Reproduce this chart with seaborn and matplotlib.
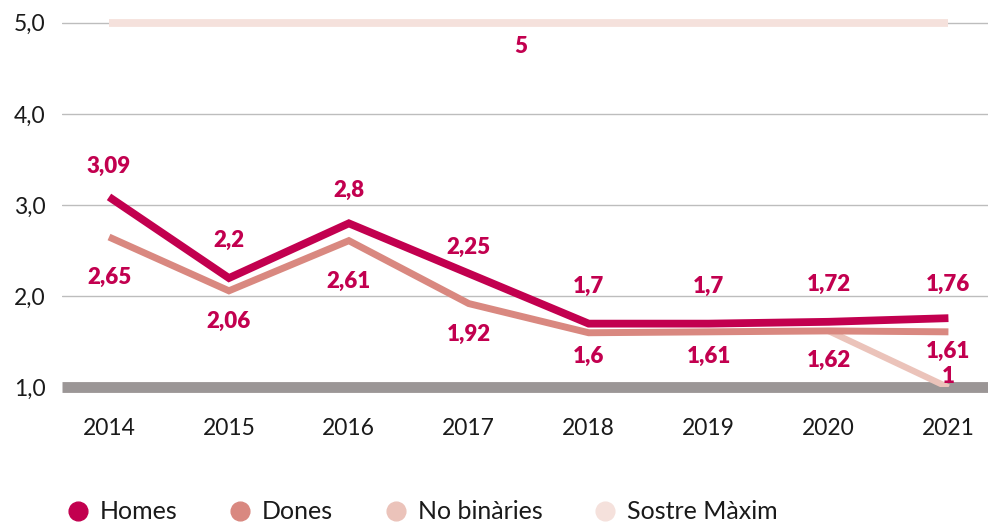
import numpy as np
import pandas as pd
import matplotlib
matplotlib.use("Agg")
import matplotlib.pyplot as plt
from matplotlib.lines import Line2D
import seaborn as sns

# Series values per year
years = [2014, 2015, 2016, 2017, 2018, 2019, 2020, 2021]
homes = [3.09, 2.2, 2.8, 2.25, 1.7, 1.7, 1.72, 1.76]
dones = [2.65, 2.06, 2.61, 1.92, 1.6, 1.61, 1.62, 1.61]
no_binaries = [np.nan, np.nan, np.nan, np.nan, np.nan, np.nan, 1.62, 1.0]
sostre_maxim = [5, 5, 5, 5, 5, 5, 5, 5]
y_ticks = [1.0, 2.0, 3.0, 4.0, 5.0]

series_names = ["Homes", "Dones", "No binàries", "Sostre Màxim"]
colors = {
    "Homes": "#C2004F",
    "Dones": "#D98880",
    "No binàries": "#EBC3BA",
    "Sostre Màxim": "#F5E1DC",
}
widths = {"Homes": 5.6, "Dones": 5.0, "No binàries": 4.6, "Sostre Màxim": 5.6}
label_color = "#C2004F"

# Vertical label offsets (points) so the value labels clear the lines
homes_offsets = [22, 27, 24, 19, 27, 27, 27, 24]
dones_offsets = [-29, -22, -29, -22, -17, -18, -21, -14]

df = pd.DataFrame({
    "any": years * 4,
    "valor": homes + dones + no_binaries + sostre_maxim,
    "serie": (["Homes"] * 8 + ["Dones"] * 8 + ["No binàries"] * 8
              + ["Sostre Màxim"] * 8),
})

sns.set_theme(style="white")
plt.rcParams["font.family"] = ["Lato", "DejaVu Sans"]

fig = plt.figure(figsize=(9.88, 5.25), dpi=100)
ax = fig.add_axes([0.063, 0.262, 0.937, 0.738])

# Gridlines and the thick baseline at 1
for t in y_ticks[1:]:
    ax.axhline(t, color="#BDBDBD", lw=1.0, zorder=0)
ax.axhline(y_ticks[0], color="#9B9696", lw=7.8, zorder=1,
           solid_capstyle="butt", clip_on=False)

for name in ["Sostre Màxim", "No binàries", "Dones", "Homes"]:
    sub = df[df["serie"] == name].dropna()
    sns.lineplot(data=sub, x="any", y="valor", ax=ax, color=colors[name],
                 lw=widths[name], legend=False, zorder=3,
                 solid_capstyle="butt", solid_joinstyle="miter")


def fmt(v):
    return f"{v:g}".replace(".", ",")


label_kw = dict(textcoords="offset points", ha="center", va="center",
                color=label_color, fontsize=16, fontweight="heavy",
                annotation_clip=False, zorder=5)

for x, v, dy in zip(years, homes, homes_offsets):
    ax.annotate(fmt(v), (x, v), xytext=(0, dy), **label_kw)
for x, v, dy in zip(years, dones, dones_offsets):
    ax.annotate(fmt(v), (x, v), xytext=(0, dy), **label_kw)
ax.annotate(fmt(no_binaries[-1]), (years[-1], no_binaries[-1]),
            xytext=(0, 8), **label_kw)
ax.annotate(fmt(sostre_maxim[0]), ((years[0] + years[-1]) / 2, sostre_maxim[0]),
            xytext=(-6, -17), **label_kw)

ax.set_xlim(years[0] - 0.39, years[-1] + 0.33)
ax.set_ylim(1.0, 5.25)
ax.set_xticks(years)
ax.set_xticklabels([str(y) for y in years])
ax.set_yticks(y_ticks)
ax.set_yticklabels([f"{t:.1f}".replace(".", ",") for t in y_ticks])
ax.tick_params(axis="both", labelsize=16.5, colors="#1a1a1a", length=0)
ax.tick_params(axis="x", pad=22)
ax.tick_params(axis="y", pad=12)
ax.set_xlabel("")
ax.set_ylabel("")
for s in ax.spines.values():
    s.set_visible(False)

handles = [Line2D([0], [0], marker="o", linestyle="none", markersize=13.5,
                  markerfacecolor=colors[n], markeredgecolor=colors[n])
           for n in series_names]
fig.legend(handles, series_names, loc="center left",
           bbox_to_anchor=(0.066, 0.025), ncol=4, frameon=False,
           fontsize=18, handletextpad=0.38, columnspacing=2.0,
           handlelength=1.0, borderpad=0, borderaxespad=0,
           labelcolor="#1a1a1a")

fig.savefig("out.png", dpi=100)
